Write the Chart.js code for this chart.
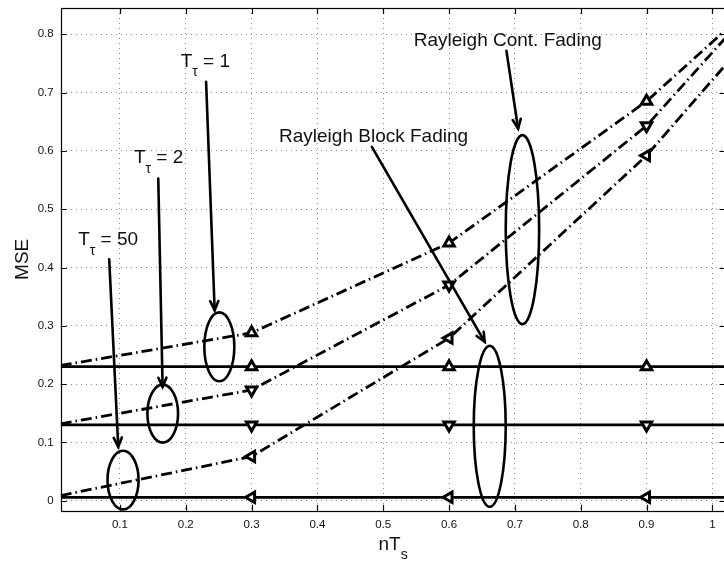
<!DOCTYPE html>
<html><head><meta charset="utf-8">
<script src="https://cdn.jsdelivr.net/npm/chart.js@4/dist/chart.umd.min.js"></script>
<style>
html,body{margin:0;padding:0;overflow:hidden;background:#fff;width:724px;height:561px}
#wrap{position:relative;width:740px;height:561px}
canvas{display:block}
</style></head>
<body><div id="wrap"><canvas id="c" width="740" height="561" style="width:740px;height:561px"></canvas></div>
<script>
// ---- data ----
const nTs = [0.01, 0.3, 0.6, 0.9, 1.2];
const blockT1 = [0.23, 0.23, 0.23, 0.23, 0.23];
const blockT2 = [0.13, 0.13, 0.13, 0.13, 0.13];
const blockT50 = [0.006, 0.006, 0.006, 0.006, 0.006];
const contT1 = [0.232, 0.288, 0.442, 0.685, 0.99];
const contT2 = [0.132, 0.19, 0.37, 0.643, 1.02];
const contT50 = [0.009, 0.076, 0.279, 0.592, 0.98];
const xTicks = [0.1, 0.2, 0.3, 0.4, 0.5, 0.6, 0.7, 0.8, 0.9, 1];
const yTicks = [0, 0.1, 0.2, 0.3, 0.4, 0.5, 0.6, 0.7, 0.8];
const xTitleMain = 'nT', xTitleSub = 's';
const yTitle = 'MSE';

// annotations (data coordinates)
const ellipses = [
  {x:0.251, y:0.264, rx:0.0228, ry:0.059},
  {x:0.165, y:0.1495, rx:0.0233, ry:0.0497},
  {x:0.1047, y:0.0355, rx:0.0236, ry:0.0502},
  {x:0.6618, y:0.1277, rx:0.0243, ry:0.138},
  {x:0.7115, y:0.465, rx:0.0254, ry:0.162}
];
const arrows = [
  {x1:0.2309, y1:0.7183, x2:0.2439, y2:0.3267},
  {x1:0.1582, y1:0.5527, x2:0.1648, y2:0.1954},
  {x1:0.0837, y1:0.4139, x2:0.0974, y2:0.0926},
  {x1:0.4827, y1:0.6069, x2:0.6542, y2:0.2726},
  {x1:0.6872, y1:0.7715, x2:0.7049, y2:0.6384}
];
const tauLabels = [
  {main:'T', sub:'τ', rest:' = 1', x:0.1923, y:0.744},
  {main:'T', sub:'τ', rest:' = 2', x:0.1212, y:0.5784},
  {main:'T', sub:'τ', rest:' = 50', x:0.0365, y:0.4384}
];
const centerLabels = [
  {text:'Rayleigh Cont. Fading', x:0.6892, y:0.780},
  {text:'Rayleigh Block Fading', x:0.4853, y:0.6144}
];

const FONT = "'Liberation Sans', Arial, Helvetica, sans-serif";
const BIG = 19, SUB = 14, TICK = 11.5;

function pts(xs, ys){ return xs.map((x,i)=>({x:x, y:ys[i]})); }
const markerR = [0, 6, 6, 6, 0];
const dashDot = [11, 4, 1.5, 4];

function ds(label, ys, rot, dashed){
  return {
    label: label, data: pts(nTs, ys),
    borderColor:'#000', borderWidth:2.8, borderDash: dashed ? dashDot : [],
    pointStyle:'triangle', pointRotation: rot, pointRadius: markerR,
    pointBorderWidth:3, pointBorderColor:'#000', pointBackgroundColor:'#fff',
    pointHoverRadius:0, tension:0, fill:false
  };
}

const annPlugin = {
  id:'ann',
  afterDatasetsDraw(chart){
    const ctx = chart.ctx, xs = chart.scales.x, ys = chart.scales.y;
    const px = v => xs.getPixelForValue(v), py = v => ys.getPixelForValue(v);
    ctx.save();
    ctx.strokeStyle = '#000'; ctx.fillStyle = '#000'; ctx.lineWidth = 2.6;
    ctx.setLineDash([]);
    ellipses.forEach(e=>{
      const cx = px(e.x), cy = py(e.y);
      const rx = Math.abs(px(e.x+e.rx)-cx), ry = Math.abs(py(e.y+e.ry)-cy);
      ctx.beginPath(); ctx.ellipse(cx, cy, rx, ry, 0, 0, Math.PI*2); ctx.stroke();
    });
    ctx.lineCap = 'round';
    arrows.forEach(a=>{
      const x1=px(a.x1), y1=py(a.y1), x2=px(a.x2), y2=py(a.y2);
      ctx.beginPath(); ctx.moveTo(x1,y1); ctx.lineTo(x2,y2); ctx.stroke();
      const ang = Math.atan2(y2-y1, x2-x1), L = 10, s = 0.42;
      ctx.beginPath();
      ctx.moveTo(x2 - L*Math.cos(ang-s), y2 - L*Math.sin(ang-s));
      ctx.lineTo(x2, y2);
      ctx.lineTo(x2 - L*Math.cos(ang+s), y2 - L*Math.sin(ang+s));
      ctx.stroke();
    });
    ctx.fillStyle = '#111';
    ctx.textBaseline = 'alphabetic';
    tauLabels.forEach(t=>{
      let x = px(t.x); const y = py(t.y);
      ctx.textAlign = 'left';
      ctx.font = BIG+'px '+FONT; ctx.fillText(t.main, x, y); x += ctx.measureText(t.main).width;
      ctx.font = SUB+'px '+FONT; ctx.fillText(t.sub, x, y+9.5); x += ctx.measureText(t.sub).width;
      ctx.font = BIG+'px '+FONT; ctx.fillText(t.rest, x, y);
    });
    ctx.font = BIG+'px '+FONT; ctx.textAlign = 'center';
    centerLabels.forEach(t=>{ ctx.fillText(t.text, px(t.x), py(t.y)); });
    ctx.restore();
  },
  afterDraw(chart){
    const ctx = chart.ctx, a = chart.chartArea, xs = chart.scales.x, ys = chart.scales.y;
    ctx.save();
    ctx.strokeStyle = '#000'; ctx.lineWidth = 1.2; ctx.setLineDash([]);
    ctx.strokeRect(Math.round(a.left)+0.5, Math.round(a.top)+0.5, Math.round(a.right-a.left), Math.round(a.bottom-a.top));
    const T = 6;
    ctx.beginPath();
    xTicks.forEach(v=>{ const x = Math.round(xs.getPixelForValue(v))+0.5;
      ctx.moveTo(x, a.bottom); ctx.lineTo(x, a.bottom-T);
      ctx.moveTo(x, a.top); ctx.lineTo(x, a.top+T); });
    yTicks.forEach(v=>{ const y = Math.round(ys.getPixelForValue(v))+0.5;
      ctx.moveTo(a.left, y); ctx.lineTo(a.left+T, y);
      ctx.moveTo(a.right, y); ctx.lineTo(a.right-T, y); });
    ctx.stroke();
    // axis titles
    ctx.fillStyle = '#111'; ctx.textBaseline = 'alphabetic';
    ctx.font = BIG+'px '+FONT;
    const wMain = ctx.measureText(xTitleMain).width;
    ctx.font = SUB+'px '+FONT;
    const wSub = ctx.measureText(xTitleSub).width;
    const cx = (a.left + a.right)/2;
    let x0 = cx - (wMain + wSub)/2;
    ctx.textAlign = 'left';
    ctx.font = BIG+'px '+FONT; ctx.fillText(xTitleMain, x0, 549.5);
    ctx.font = SUB+'px '+FONT; ctx.fillText(xTitleSub, x0 + wMain, 559);
    ctx.translate(27.5, (a.top + a.bottom)/2);
    ctx.rotate(-Math.PI/2);
    ctx.textAlign = 'center';
    ctx.font = BIG+'px '+FONT; ctx.fillText(yTitle, 0, 0);
    ctx.restore();
  }
};

const gridOpts = { color:'rgba(0,0,0,0.45)', lineWidth:1, drawTicks:false };
const borderOpts = { display:false, dash:[1,4] };

new Chart(document.getElementById('c'), {
  type:'line',
  data:{ datasets:[
    ds('Block T=1', blockT1, 0, false),
    ds('Block T=2', blockT2, 180, false),
    ds('Block T=50', blockT50, 270, false),
    ds('Cont T=1', contT1, 0, true),
    ds('Cont T=2', contT2, 180, true),
    ds('Cont T=50', contT50, 270, true)
  ]},
  options:{
    responsive:false, animation:false, devicePixelRatio:1,
    layout:{ padding:{ top:8, right:14.5, left:0, bottom:0 } },
    plugins:{ legend:{display:false}, tooltip:{enabled:false} },
    scales:{
      x:{ type:'linear', min:0.01, max:1.02,
        grid: gridOpts, border: borderOpts,
        afterBuildTicks: s => { s.ticks = xTicks.map(v=>({value:v})); },
        afterFit: s => { s.height = 50.3; s.paddingLeft = 0; s.paddingRight = 0; s.paddingTop = 0; s.paddingBottom = 0; },
        ticks:{ padding:7, maxRotation:0, autoSkip:false, color:'#111', font:{family:FONT, size:TICK},
          callback: v => String(v) }
      },
      y:{ type:'linear', min:-0.017, max:0.845,
        grid: gridOpts, border: borderOpts,
        afterBuildTicks: s => { s.ticks = yTicks.map(v=>({value:v})); },
        afterFit: s => { s.width = 60.7; s.paddingLeft = 0; s.paddingRight = 0; s.paddingTop = 0; s.paddingBottom = 0; },
        ticks:{ padding:7, autoSkip:false, color:'#111', font:{family:FONT, size:TICK},
          callback: v => String(v) }
      }
    }
  },
  plugins:[annPlugin]
});
</script>
</body></html>
